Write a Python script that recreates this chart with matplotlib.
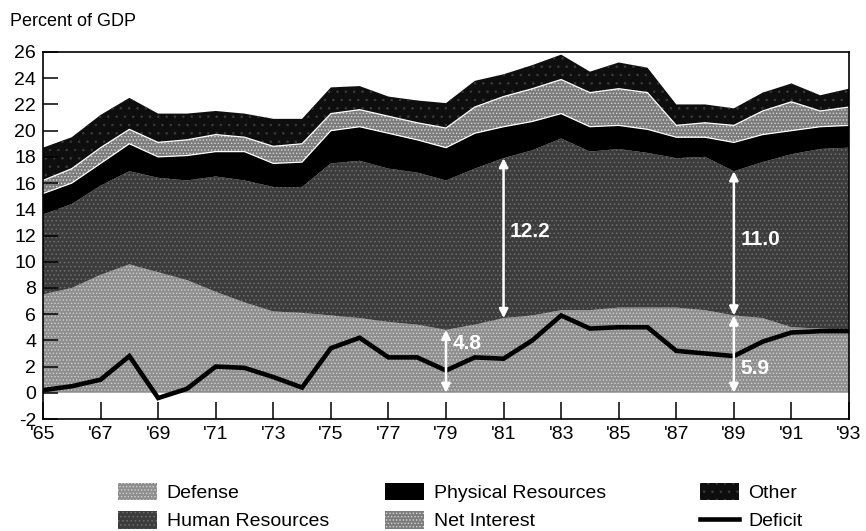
import numpy as np
import matplotlib
matplotlib.use('Agg')
import matplotlib.pyplot as plt
from matplotlib.patches import Patch
from matplotlib.lines import Line2D

plt.rcParams['font.family'] = ['Liberation Sans', 'DejaVu Sans']
plt.rcParams['axes.unicode_minus'] = False
plt.rcParams['hatch.linewidth'] = 0.6

# outlays by function, percent of GDP (each layer is its own share, stacked bottom-up)
years = list(range(1965, 1994))
defense = [7.5, 8.0, 9.0, 9.8, 9.2, 8.6, 7.7, 6.9, 6.2, 6.1, 5.9, 5.7, 5.4, 5.2, 4.8,
           5.2, 5.7, 5.9, 6.3, 6.3, 6.5, 6.5, 6.5, 6.3, 5.9, 5.7, 5.0, 4.9, 4.8]
human = [6.1, 6.4, 6.8, 7.1, 7.2, 7.6, 8.8, 9.3, 9.5, 9.6, 11.6, 12.0, 11.7, 11.6, 11.4,
         11.9, 12.2, 12.6, 13.1, 12.1, 12.1, 11.8, 11.4, 11.7, 11.0, 11.9, 13.2, 13.7, 13.9]
physical = [1.6, 1.6, 1.7, 2.1, 1.6, 1.9, 1.9, 2.2, 1.8, 1.9, 2.5, 2.6, 2.7, 2.5, 2.5,
            2.7, 2.4, 2.2, 1.9, 1.9, 1.8, 1.8, 1.6, 1.5, 2.2, 2.1, 1.8, 1.7, 1.7]
interest = [1.0, 1.1, 1.2, 1.1, 1.1, 1.2, 1.3, 1.1, 1.3, 1.4, 1.3, 1.3, 1.3, 1.3, 1.5,
            2.0, 2.3, 2.5, 2.6, 2.6, 2.8, 2.8, 0.9, 1.1, 1.3, 1.8, 2.2, 1.2, 1.4]
other = [2.5, 2.4, 2.5, 2.4, 2.2, 2.0, 1.8, 1.8, 2.1, 1.9, 2.0, 1.8, 1.5, 1.7, 1.9,
         2.0, 1.7, 1.8, 1.9, 1.6, 2.0, 1.9, 1.6, 1.4, 1.3, 1.4, 1.4, 1.2, 1.4]
deficit = [0.2, 0.5, 1.0, 2.8, -0.4, 0.3, 2.0, 1.9, 1.2, 0.4, 3.4, 4.2, 2.7, 2.7, 1.7,
           2.7, 2.6, 4.0, 5.9, 4.9, 5.0, 5.0, 3.2, 3.0, 2.8, 3.9, 4.6, 4.7, 4.7]

layer_names = ['Defense', 'Human Resources', 'Physical Resources', 'Net Interest', 'Other']
layer_colors = ['#8e8e8e', '#3c3c3c', '#000000', '#7c7c7c', '#0e0e0e']
# dotted texture to stand in for the halftone screens of the print
layer_hatch = ['.....', '....', None, '.....', '..']
hatch_colors = ['#d2d2d2', '#6e6e6e', '#000000', '#d8d8d8', '#3a3a3a']

# years that get the white measuring arrows
defense_marks = [1979, 1989]
human_marks = [1981, 1989]

xticks = list(range(1965, 1994, 2))
xticklabels = ["'" + str(y)[2:] for y in xticks]
yticks = list(range(-2, 27, 2))

fig = plt.figure(figsize=(8.66, 5.31), dpi=100)
ax = fig.add_axes([43 / 866, 1 - 419 / 531, 806 / 866, 367 / 531])

polys = ax.stackplot(years, defense, human, physical, interest, other,
                     colors=layer_colors, linewidth=0)
for p, h, hc in zip(polys, layer_hatch, hatch_colors):
    if h:
        p.set_hatch(h)
        p.set_edgecolor(hc)
        p.set_linewidth(0)
# thin light rim round the net interest band, as in the print
ax.fill_between(years,
                np.add(np.add(defense, human), physical),
                np.add(np.add(np.add(defense, human), physical), interest),
                facecolor='none', edgecolor='white', linewidth=0.9)

ax.plot(years, deficit, color='black', linewidth=3.3, solid_joinstyle='miter')

ax.set_xlim(1965, 1993)
ax.set_ylim(-2, 26)
ax.set_xticks(xticks)
ax.set_xticklabels(xticklabels)
ax.set_yticks(yticks)
ax.tick_params(axis='both', direction='in', labelsize=14, width=1.1)
ax.tick_params(axis='x', length=12, pad=5)
ax.tick_params(axis='y', length=11, pad=5)
for s in ax.spines.values():
    s.set_linewidth(1.2)

arrow_kw = dict(arrowstyle='<|-|>', color='white', lw=1.8, mutation_scale=13,
                shrinkA=0, shrinkB=0)
label_kw = dict(color='white', fontsize=15, fontweight='bold', va='center', ha='left')

for yr in defense_marks:
    i = years.index(yr)
    ax.annotate('', xy=(yr, 0), xytext=(yr, defense[i]), arrowprops=arrow_kw)
    ax.text(yr + 0.22, defense[i] * 0.79 if yr == 1979 else defense[i] * 0.32,
            f'{defense[i]:.1f}', **label_kw)

for yr in human_marks:
    i = years.index(yr)
    lo = defense[i]
    hi = defense[i] + human[i]
    ax.annotate('', xy=(yr, lo), xytext=(yr, hi), arrowprops=arrow_kw)
    ax.text(yr + 0.22, hi - 5.6 if yr == 1981 else hi - 5.2,
            f'{human[i]:.1f}', **label_kw)

fig.text(10 / 866, 1 - 21 / 531, 'Percent of GDP', fontsize=13, va='center', ha='left')

handles = []
for c, h, hc in zip(layer_colors, layer_hatch, hatch_colors):
    handles.append(Patch(facecolor=c, edgecolor=hc if h else 'none', hatch=h, linewidth=0))
handles.append(Line2D([0], [0], color='black', linewidth=3.3))
labels = layer_names + ['Deficit']

leg_kw = dict(loc='upper left', frameon=False, fontsize=14, handlelength=2.0,
              handleheight=1.0, handletextpad=0.5, labelspacing=0.45,
              borderpad=0, borderaxespad=0)
fig.legend([handles[0], handles[1]], [labels[0], labels[1]],
           bbox_to_anchor=(118 / 866, 1 - 483 / 531), **leg_kw)
fig.legend([handles[2], handles[3]], [labels[2], labels[3]],
           bbox_to_anchor=(385 / 866, 1 - 483 / 531), **leg_kw)
fig.legend([handles[4], handles[5]], [labels[4], labels[5]],
           bbox_to_anchor=(700 / 866, 1 - 483 / 531), **leg_kw)

fig.savefig('out.png', dpi=100)
print('saved out.png')
